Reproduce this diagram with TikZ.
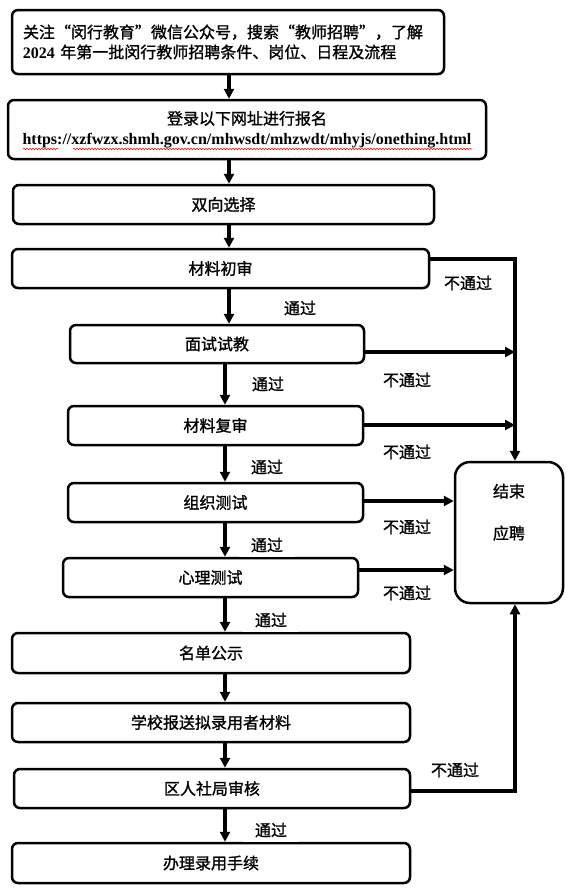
\documentclass[tikz,border=0pt]{standalone}
\usepackage{fontspec}
\setmainfont{Liberation Serif}
\newfontfamily\cjk{Noto Sans CJK SC}[FakeBold=1.2]
\usetikzlibrary{arrows.meta,positioning,calc,decorations.pathmorphing}

\newcommand{\serifbf}[1]{{\rmfamily\bfseries #1}}

\tikzset{
  box/.style={draw, line width=2.5pt, rounded corners=6pt, inner sep=0pt,
    align=center, font=\cjk\fontsize{16}{20}\selectfont},
  arr/.style={line width=3.2pt, -{Triangle[length=10pt,width=10pt]}},
  pass/.style={fill=white, inner xsep=12pt, inner ysep=5pt,
    font=\cjk\fontsize{16}{20}\selectfont},
  fail/.style={inner sep=0pt, font=\cjk\fontsize{16}{20}\selectfont},
}

\begin{document}
\begin{tikzpicture}[x=1pt,y=-1pt]
    \useasboundingbox (0,0) rectangle (566,892);

    % Columns of the connectors
    \coordinate (ca) at (229,0);
    \coordinate (cb) at (225,0);
    \coordinate (rx) at (515,0);

    % Top boxes
    \node[box, text width=410pt, align=left, minimum width=432pt, minimum height=64pt] (b1) at (228,42)
        {关注“闵行教育”微信公众号，搜索“教师招聘”，了解\\\serifbf{2024} 年第一批闵行教师招聘条件、岗位、日程及流程};
    \node[box, minimum width=478pt, minimum height=59pt] (b2) at (247,129.5)
        {登录以下网址进行报名\\\serifbf{https://xzfwzx.shmh.gov.cn/mhwsdt/mhzwdt/mhyjs/onething.html}};
    \node[box, minimum width=421pt, minimum height=39pt] (b3) at (223.5,204.5) {双向选择};
    \node[box, minimum width=417pt, minimum height=39pt] (b4) at (220.5,268.5) {材料初审};

    % Examination boxes
    \node[box, minimum width=294pt, minimum height=38pt] (b5) at (217,344) {面试试教};
    \node[box, minimum width=295pt, minimum height=39pt] (b6) at (215.5,425.5) {材料复审};
    \node[box, minimum width=295pt, minimum height=39pt] (b7) at (215.5,502.5) {组织测试};
    \node[box, minimum width=295pt, minimum height=39pt] (b8) at (210.5,577.5) {心理测试};

    % Bottom boxes
    \node[box, minimum width=398pt, minimum height=40pt] (b9) at (211,653) {名单公示};
    \node[box, minimum width=398pt, minimum height=39pt] (b10) at (211,722.5) {学校报送拟录用者材料};
    \node[box, minimum width=396pt, minimum height=39pt] (b11) at (212,788.5) {区人社局审核};
    \node[box, minimum width=398pt, minimum height=40pt] (b12) at (211,863) {办理录用手续};

    % End box
    \node[box, rounded corners=15pt, minimum width=108pt, minimum height=141pt] (end) at (509,532.5)
        {结束\\[22pt]应聘\\[22pt]\mbox{}};

    % Spell-check underline of the address
    \draw[red, line width=0.6pt, decorate, decoration={snake, amplitude=0.7pt, segment length=3pt}]
        (23,149) -- (58,149);
    \draw[red, line width=0.6pt, decorate, decoration={snake, amplitude=0.7pt, segment length=3pt}]
        (73,149) -- (472,149);

    % Main line
    \draw[arr] (b1.south -| ca) -- (b2.north -| ca);
    \draw[arr] (b2.south -| ca) -- (b3.north -| ca);
    \draw[arr] (b3.south -| ca) -- (b4.north -| ca);
    \draw[arr] (b4.south -| ca) -- (b5.north -| ca);
    \draw[arr] (b5.south -| cb) -- (b6.north -| cb);
    \draw[arr] (b6.south -| cb) -- (b7.north -| cb);
    \draw[arr] (b7.south -| cb) -- (b8.north -| cb);
    \draw[arr] (b8.south -| cb) -- (b9.north -| cb);
    \draw[arr] (b9.south -| cb) -- (b10.north -| cb);
    \draw[arr] (b10.south -| cb) -- (b11.north -| cb);
    \draw[arr] (b11.south -| cb) -- (b12.north -| cb);

    % Rejections
    \draw[arr] ([yshift=9.5pt]b4.east) -| (end.north -| rx);
    \draw[arr] ([yshift=-8pt]b5.east) coordinate (p5) -- (p5 -| rx);
    \draw[arr] ([yshift=0.5pt]b6.east) coordinate (p6) -- (p6 -| rx);
    \draw[arr] ([yshift=1.5pt]b7.east) coordinate (p7) -- (p7 -| end.west);
    \draw[arr] ([yshift=7.5pt]b8.east) coordinate (p8) -- (p8 -| end.west);
    \draw[arr] ([yshift=-2.5pt]b11.east) -| (end.south -| rx);

    % Labels
    \node[pass] (t4) at (300,308) {通过};
    \node[pass] (t5) at (268,384) {通过};
    \node[pass] (t6) at (267,467) {通过};
    \node[pass] (t7) at (267,545) {通过};
    \node[pass] (t8) at (271,620) {通过};
    \node[pass] (t11) at (271,830) {通过};

    \node[fail] (n4) at (468,283) {不通过};
    \node[fail] (n5) at (407,380) {不通过};
    \node[fail] (n6) at (407,452) {不通过};
    \node[fail] (n7) at (407,527) {不通过};
    \node[fail] (n8) at (407,593) {不通过};
    \node[fail] (n11) at (455,770) {不通过};
\end{tikzpicture}
\end{document}
